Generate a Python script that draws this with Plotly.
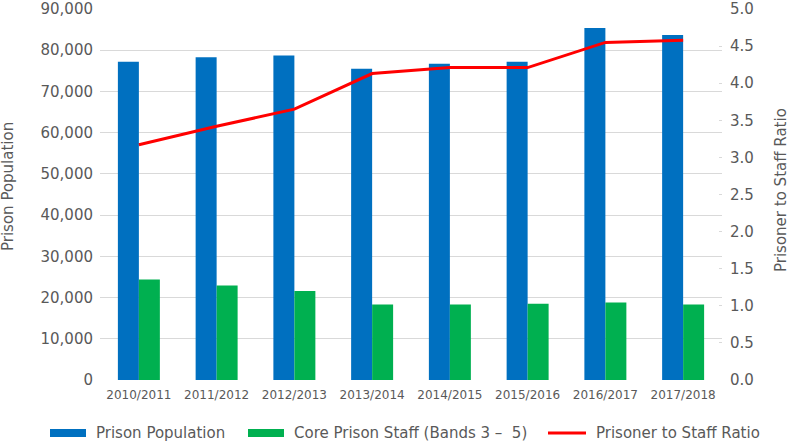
import plotly.graph_objects as go

years = ["2010/2011", "2011/2012", "2012/2013", "2013/2014", "2014/2015",
         "2015/2016", "2016/2017", "2017/2018"]
prison_population = [77200, 78300, 78700, 75500, 76700, 77200, 85400, 83700]
core_staff = [24400, 22900, 21600, 18300, 18300, 18500, 18800, 18300]
ratio = [3.17, 3.42, 3.65, 4.13, 4.21, 4.21, 4.55, 4.58]

left_ticks = [0, 10000, 20000, 30000, 40000, 50000, 60000, 70000, 80000, 90000]
right_ticks = [0.0, 0.5, 1.0, 1.5, 2.0, 2.5, 3.0, 3.5, 4.0, 4.5, 5.0]

series_names = ["Prison Population", "Core Prison Staff (Bands 3 \u2013  5)",
                "Prisoner to Staff Ratio"]
series_colors = ["#0070C0", "#00B050", "#FF0000"]

font = "DejaVu Sans, Arial, sans-serif"
grey = "#595959"
gridc = "#d9d9d9"

W, H = 792, 443
L, R, T, B = 100, 70, 9, 63
pw, ph = W - L - R, H - T - B


def px_x(px):
    return (px - L) / pw


def px_y(py):
    return (H - B - py) / ph


fig = go.Figure()
fig.add_trace(go.Bar(x=years, y=prison_population, name=series_names[0],
                     marker=dict(color=series_colors[0], line=dict(width=0)),
                     showlegend=False))
fig.add_trace(go.Bar(x=years, y=core_staff, name=series_names[1],
                     marker=dict(color=series_colors[1], line=dict(width=0)),
                     showlegend=False))
fig.add_trace(go.Scatter(x=years, y=ratio, name=series_names[2], yaxis="y2",
                         mode="lines", line=dict(color=series_colors[2], width=3),
                         showlegend=False))

# manual legend (wide swatches as in the reference)
legend_y = 433
swatches = [(50, 86), (248, 284), (548, 586)]
shapes = []
annotations = []
for i, (x0, x1) in enumerate(swatches):
    if i < 2:
        shapes.append(dict(type="rect", xref="paper", yref="paper",
                           x0=px_x(x0), x1=px_x(x1),
                           y0=px_y(legend_y + 4), y1=px_y(legend_y - 4),
                           fillcolor=series_colors[i], line=dict(width=0)))
    else:
        shapes.append(dict(type="line", xref="paper", yref="paper",
                           x0=px_x(x0), x1=px_x(x1),
                           y0=px_y(legend_y), y1=px_y(legend_y),
                           line=dict(color=series_colors[i], width=3)))
    annotations.append(dict(text=series_names[i], xref="paper", yref="paper",
                            x=px_x(x1 + 8), y=px_y(legend_y),
                            xanchor="left", yanchor="middle", showarrow=False,
                            font=dict(size=15, color=grey, family=font)))

# axis titles
annotations.append(dict(text="Prison Population", xref="paper", yref="paper",
                        x=px_x(8), y=px_y(187), textangle=-90,
                        xanchor="center", yanchor="middle", showarrow=False,
                        font=dict(size=15, color=grey, family=font)))
annotations.append(dict(text="Prisoner to Staff Ratio", xref="paper", yref="paper",
                        x=px_x(781), y=px_y(190), textangle=-90,
                        xanchor="center", yanchor="middle", showarrow=False,
                        font=dict(size=15, color=grey, family=font)))

fig.update_layout(
    width=W, height=H,
    margin=dict(l=L, r=R, t=T, b=B, autoexpand=False),
    paper_bgcolor="white", plot_bgcolor="white",
    font=dict(family=font, color=grey, size=15),
    barmode="group", bargap=0.46, bargroupgap=0,
    showlegend=False,
    shapes=shapes,
    annotations=annotations,
    xaxis=dict(showgrid=False, showline=False, automargin=False,
               tickfont=dict(size=12, color=grey), ticks="", ticklabelstandoff=6),
    yaxis=dict(range=[0, 90000], tickvals=left_ticks, tickformat=",d",
               showgrid=True, gridcolor=gridc, gridwidth=1, zeroline=False,
               automargin=False, ticklabeloverflow="allow",
               tickfont=dict(size=15, color=grey), ticks="", ticklabelstandoff=6),
    yaxis2=dict(range=[0, 5], tickvals=right_ticks, tickformat=".1f", overlaying="y",
                side="right", showgrid=False, zeroline=False, automargin=False,
                ticklabeloverflow="allow",
                tickfont=dict(size=15, color=grey), ticks="inside", ticklen=3,
                tickcolor=gridc, ticklabelstandoff=7),
)

fig.write_html("out.html",
               config={"displayModeBar": False},
               post_script="document.body.style.margin='0';"
                           "document.body.style.overflow='hidden';")
